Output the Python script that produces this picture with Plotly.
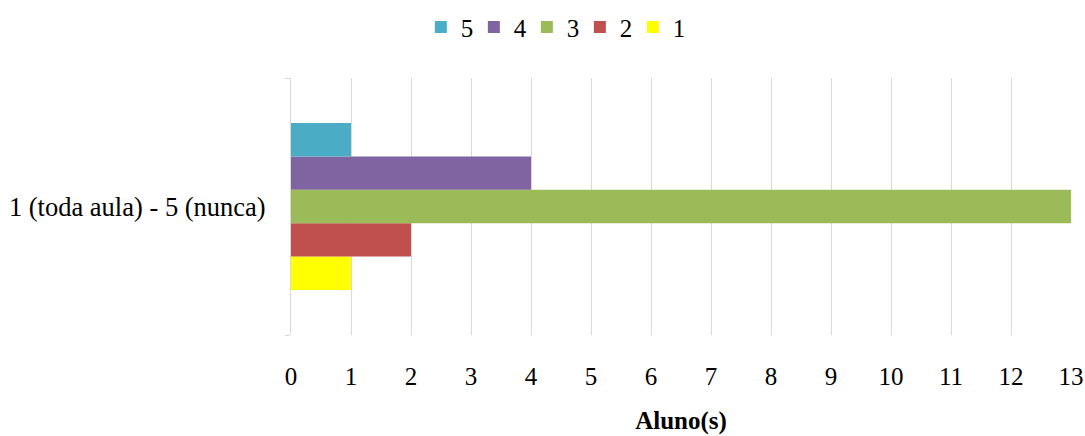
import plotly.graph_objects as go

category = ["1 (toda aula) - 5 (nunca)"]
series_names = ["1", "2", "3", "4", "5"]
series_values = [1, 2, 13, 4, 1]
series_colors = ["#FFFF00", "#C0504D", "#9BBB59", "#8064A2", "#4BACC6"]
x_ticks = list(range(0, 14))

FONT = "Liberation Serif"
FS = 25
fig = go.Figure()
for name, val, col in zip(series_names, series_values, series_colors):
    fig.add_trace(go.Bar(y=category, x=[val], name=name, orientation="h",
                         marker=dict(color=col, line=dict(width=0))))

fig.update_layout(
    width=1085, height=436,
    barmode="group", bargap=0.35, bargroupgap=0,
    plot_bgcolor="white", paper_bgcolor="white",
    margin=dict(l=291, r=14, t=78, b=101, autoexpand=False),
    font=dict(family=FONT, size=FS, color="black"),
    legend=dict(orientation="h", traceorder="reversed",
                xref="container", x=0.51, xanchor="center",
                yref="container", y=0.99, yanchor="top",
                font=dict(family=FONT, size=FS, color="black"),
                itemwidth=30, itemsizing="constant", entrywidth=8,
                entrywidthmode="pixels"),
    showlegend=True,
)
fig.update_xaxes(range=[0, 13], tickvals=x_ticks, showgrid=True, gridcolor="#D9D9D9",
                 gridwidth=1, zeroline=False, showline=False, ticks="",
                 ticklabelstandoff=24, automargin=False,
                 tickfont=dict(family=FONT, size=FS),
                 title=dict(text="<b>Aluno(s)</b>", font=dict(family=FONT, size=FS), standoff=22))
fig.update_yaxes(showline=True, linecolor="#D9D9D9", linewidth=1, ticks="outside",
                 tickson="boundaries", ticklen=5, tickcolor="#D9D9D9",
                 ticklabelstandoff=19, showgrid=False, automargin=False,
                 tickfont=dict(family=FONT, size=26.5))
fig.write_html("out.html")
